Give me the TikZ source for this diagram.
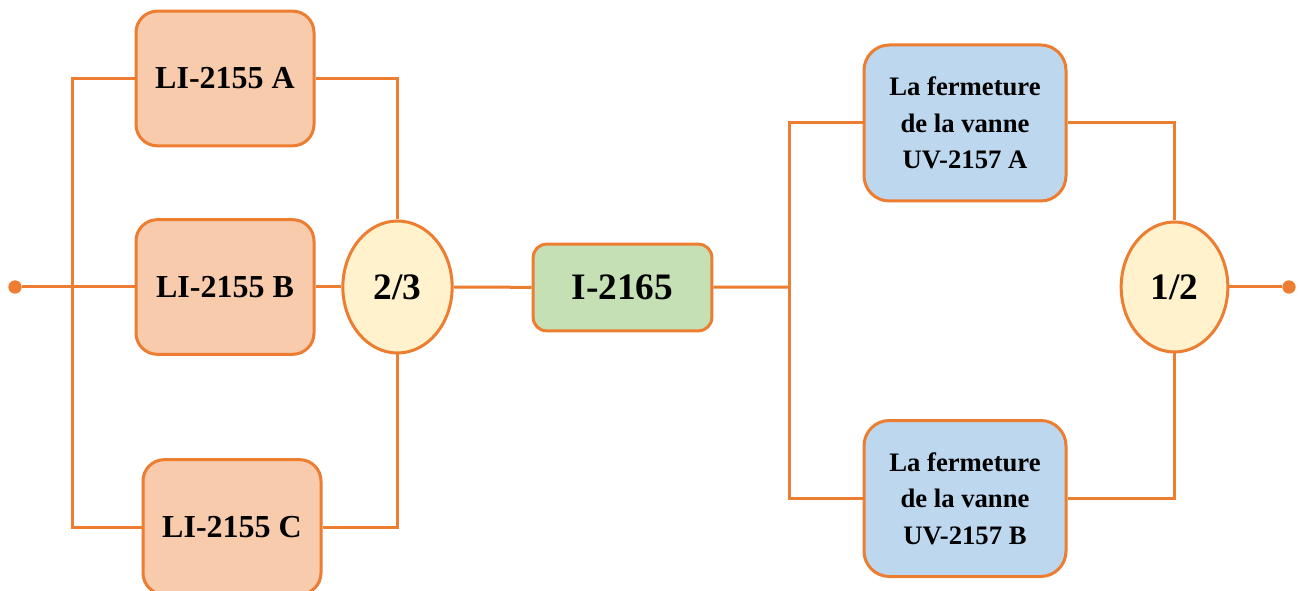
\documentclass[tikz,border=0pt]{standalone}
\usepackage{fontspec}
\setmainfont{Liberation Serif}

\definecolor{wireorange}{RGB}{237,125,49}
\definecolor{lifill}{RGB}{248,203,173}
\definecolor{ifill}{RGB}{197,224,180}
\definecolor{uvfill}{RGB}{189,215,238}
\definecolor{votefill}{RGB}{255,242,204}

\tikzset{
  wire/.style={draw=wireorange, line width=2.25pt},
  block/.style={draw=wireorange, line width=2.25pt, align=center, inner sep=0pt, font=\bfseries},
  liblock/.style={block, fill=lifill, rounded corners=16pt, minimum width=133.5pt, minimum height=101pt, font=\bfseries\fontsize{24}{28}\selectfont},
  uvblock/.style={block, fill=uvfill, rounded corners=19pt, minimum width=151.5pt, minimum height=117pt, font=\bfseries\fontsize{20}{27.5}\selectfont},
  vote/.style={block, ellipse, fill=votefill, font=\bfseries\fontsize{28}{32}\selectfont},
  enddot/.style={circle, fill=wireorange, inner sep=0pt, minimum size=10pt},
}
\usetikzlibrary{shapes.geometric}

\begin{document}
\begin{tikzpicture}[x=0.75pt,y=0.75pt,yscale=-1,xscale=1]
\useasboundingbox (0,0) rectangle (1302,591);

% Input and output
\node [enddot] (in) at (15,287) {};
\node [enddot] (out) at (1289,287) {};

% LI blocks
\node [liblock] (liA) at (225,78.5) {LI-2155 A};
\node [liblock] (liB) at (225,287) {LI-2155 B};
\node [liblock] (liC) at (232,527) {LI-2155 C};

% 2/3 vote
\node [vote, minimum width=82pt, minimum height=99pt] (vote23) at (397.5,287) {2/3};

% I-2165
\node [block, fill=ifill, rounded corners=10pt, minimum width=134pt, minimum height=65pt, font=\bfseries\fontsize{28}{32}\selectfont] (i2165) at (622.5,287.5) {I-2165};

% UV blocks
\node [uvblock] (uvA) at (965,123) {La fermeture\\de la vanne\\UV-2157 A};
\node [uvblock] (uvB) at (965,498.5) {La fermeture\\de la vanne\\UV-2157 B};

% 1/2 vote
\node [vote, minimum width=80pt, minimum height=97.5pt] (vote12) at (1174.5,287) {1/2};

% Junctions
\coordinate (busL) at (72,287);
\coordinate (busR) at (789,287);

% Straight Lines
\draw [wire] (in) -- (liB);
\draw [wire] (liA.west) -| (busL) |- (liC.west);
\draw [wire] (liA.east) -| (vote23.north);
\draw [wire] (liB) -- (vote23);
\draw [wire] (liC.east) -| (vote23.south);
\draw [wire] (vote23) -- (i2165);
\draw [wire] (i2165) -- (busR);
\draw [wire] (uvA.west) -| (busR) |- (uvB.west);
\draw [wire] (uvA.east) -| (vote12.north);
\draw [wire] (uvB.east) -| (vote12.south);
\draw [wire] (vote12) -- (out);

\end{tikzpicture}
\end{document}
